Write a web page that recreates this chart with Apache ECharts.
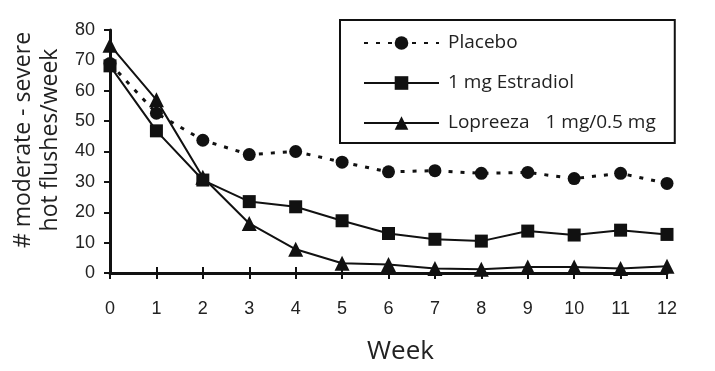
<!DOCTYPE html>
<html><head><meta charset="utf-8">
<script src="https://cdn.jsdelivr.net/npm/echarts@6/dist/echarts.min.js"></script>
<style>html,body{margin:0;padding:0;background:#fff}#c{width:715px;height:371px}</style>
</head><body><div id="c"></div>
<script>
const weeks = ['0','1','2','3','4','5','6','7','8','9','10','11','12'];
const placebo = [69, 52.6, 43.7, 39, 40, 36.5, 33.3, 33.7, 32.8, 33.1, 31.1, 32.8, 29.5];
const estradiol = [68.2, 46.8, 30.6, 23.5, 21.8, 17.2, 13.0, 11.1, 10.5, 13.8, 12.5, 14.1, 12.7];
const lopreeza = [75, 57, 31.5, 16.3, 7.8, 3.2, 2.8, 1.5, 1.2, 2.0, 2.0, 1.5, 2.2];
const seriesNames = ['Placebo', '1 mg Estradiol', 'Lopreeza'];
const lopreezaDose = '1 mg/0.5 mg';
const yTitle = ['# moderate - severe', 'hot flushes/week'];
const xTitle = 'Week';

const font = '"Open Sans", "Noto Sans", sans-serif';
const tickFont = '"Liberation Sans", Arial, sans-serif';
const ink = '#111';
const chart = echarts.init(document.getElementById('c'), null, {renderer: 'canvas'});
const base = {
  type: 'line', xAxisIndex: 0, yAxisIndex: 0,
  itemStyle: {color: ink}, symbolSize: 13,
  emphasis: {disabled: true}, animation: false
};
chart.setOption({
  animation: false,
  textStyle: {fontFamily: font},
  grid: {left: 110, right: 48, top: 30, bottom: 98},
  xAxis: [{
    type: 'category', data: weeks, boundaryGap: false,
    axisLine: {lineStyle: {color: ink, width: 3}},
    axisTick: {show: true, length: 6, lineStyle: {color: ink, width: 2}},
    axisLabel: {color: '#222', fontSize: 18, margin: 27, fontFamily: tickFont},
    splitLine: {show: false},
    name: xTitle, nameLocation: 'middle', nameGap: 66,
    nameTextStyle: {fontSize: 26, color: '#222', fontFamily: font, padding: [0, 0, 0, 24]}
  }, {
    type: 'category', data: weeks, boundaryGap: false, position: 'bottom',
    axisLine: {show: false},
    axisTick: {show: true, inside: true, length: 6, lineStyle: {color: ink, width: 2}},
    axisLabel: {show: false}, splitLine: {show: false}
  }],
  yAxis: {
    type: 'value', min: 0, max: 80, interval: 10,
    axisLine: {show: true, lineStyle: {color: ink, width: 3}},
    axisTick: {show: true, length: 6, lineStyle: {color: ink, width: 2}},
    axisLabel: {color: '#222', fontSize: 18, margin: 15, fontFamily: tickFont},
    splitLine: {show: false}
  },
  legend: {
    orient: 'vertical', left: 340, top: 20,
    padding: [12, 19, 9, 23], itemGap: 18,
    itemWidth: 75, itemHeight: 17,
    borderColor: ink, borderWidth: 2, backgroundColor: '#fff',
    textStyle: {fontSize: 19, color: '#222', fontFamily: font, lineHeight: 22, padding: [0,0,0,4],
      rich: {s: {fontSize: 19, color: '#222', fontFamily: font, padding: [0, 0, 0, 16]}}},
    formatter: function (n) { return n === 'Lopreeza' ? 'Lopreeza{s|' + lopreezaDose + '}' : n; },
    data: seriesNames
  },
  graphic: [
    {type: 'text', x: 23, y: 140, rotation: Math.PI / 2,
      style: {text: yTitle[0], fontSize: 23, fill: '#222', fontFamily: font, align: 'center', verticalAlign: 'middle'}},
    {type: 'text', x: 50, y: 140, rotation: Math.PI / 2,
      style: {text: yTitle[1], fontSize: 23, fill: '#222', fontFamily: font, align: 'center', verticalAlign: 'middle'}}
  ],
  series: [
    Object.assign({}, base, {name: seriesNames[0], data: placebo, symbol: 'circle',
      lineStyle: {color: ink, width: 3, type: [4, 8]}, z: 2}),
    Object.assign({}, base, {name: seriesNames[1], data: estradiol, symbol: 'rect',
      lineStyle: {color: ink, width: 2}, z: 3}),
    Object.assign({}, base, {name: seriesNames[2], data: lopreeza, symbol: 'triangle', symbolSize: 15,
      lineStyle: {color: ink, width: 2}, z: 4})
  ]
});
</script></body></html>
